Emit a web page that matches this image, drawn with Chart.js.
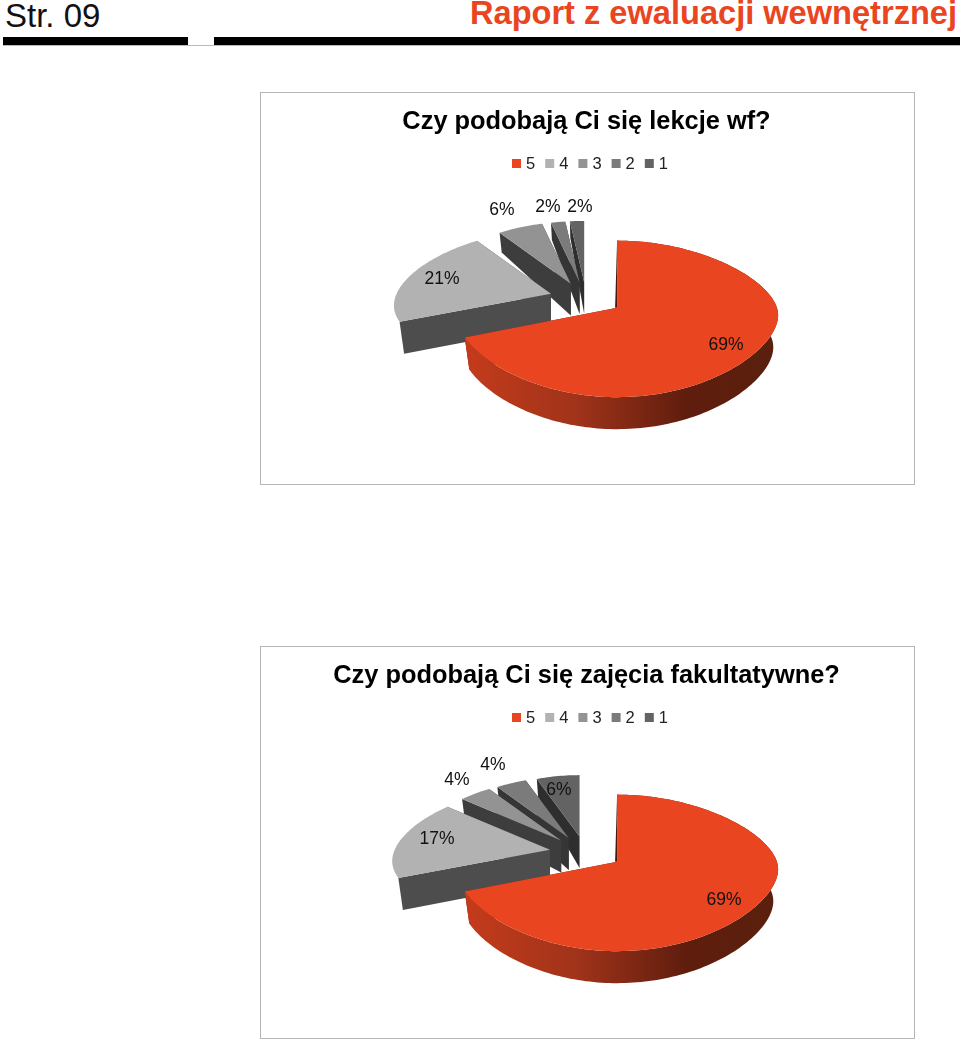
<!DOCTYPE html>
<html lang="pl">
<head>
<meta charset="utf-8">
<title>Raport z ewaluacji wewnętrznej</title>
<script src="https://cdn.jsdelivr.net/npm/chart.js@4"></script>
<style>
    body { margin: 0; background: #fff; font-family: "Liberation Sans", Arial, sans-serif; }
    #page { position: relative; width: 960px; height: 1040px; overflow: hidden; }
    #page-no { position: absolute; left: 5px; top: -2px; font-size: 33px; line-height: 36px; color: #111; }
    #report { position: absolute; right: 3px; top: -5px; font-size: 32.6px; line-height: 36px; font-weight: bold; color: #ea4521; white-space: nowrap; }
    .bar { position: absolute; top: 37px; height: 8px; background: #000; }
    #rule { position: absolute; left: 3px; width: 957px; top: 45px; height: 1px; background: #bbb; }
    .box { position: absolute; left: 260px; width: 653px; height: 391px; border: 1px solid #b5b5b5; }
    canvas { position: absolute; left: 0; top: 0; }
</style>
</head>
<body>
<div id="page">
    <div id="page-no">Str. 09</div>
    <div id="report">Raport z ewaluacji wewnętrznej</div>
    <div class="bar" style="left:3px;width:185px"></div>
    <div class="bar" style="left:214px;width:746px"></div>
    <div id="rule"></div>
    <div class="box" style="top:92px"><canvas id="chart1" width="653" height="391"></canvas></div>
    <div class="box" style="top:646px"><canvas id="chart2" width="653" height="391"></canvas></div>
</div>
<script>
const categories = ['5', '4', '3', '2', '1'];
const lessonValues = [69, 21, 6, 2, 2];
const extraValues = [69, 17, 4, 4, 6];
const lessonTitle = 'Czy podobają Ci się lekcje wf?';
const extraTitle = 'Czy podobają Ci się zajęcia fakultatywne?';

const topColors = ['#ea4521', '#b2b2b2', '#939393', '#7b7b7b', '#636363'];
const wallColors = ['#7a2812', '#4d4d4d', '#3d3d3d', '#353535', '#2e2e2e'];

// label centres inside the chart box, same order as the values
const lessonLabels = [[465, 252], [181, 186], [241, 117], [287, 114], [319, 114]];
const extraLabels = [[463, 253], [176, 192], [196, 133], [232, 118], [298, 143]];

// tilted view
const DEPTH = 32;
const TILT = 74;
const FORESHORTEN = 0.14;
const BACK_SHRINK = 36;

function project(arc, mid, angle, rho, dropped) {
    const R = arc.outerRadius;
    const off = arc.options.offset;
    const yAbs = -(off / R) * Math.cos(mid) - rho * Math.cos(angle);
    // slices get narrower towards the back, no kink at the front
    const u = 0.2 - yAbs;
    const rx = R - BACK_SHRINK * (u + Math.sqrt(u * u + 0.04)) / 2;
    const depth = DEPTH + Math.min(0, yAbs + 0.2) * 15;
    return {
        x: arc.x + off * Math.sin(mid) + rho * Math.sin(angle) * rx * (dropped ? 0.97 : 1),
        y: arc.y + TILT * yAbs / (1 - FORESHORTEN * yAbs) + (dropped ? depth : 0)
    };
}

function fillPoly(ctx, points, color) {
    ctx.beginPath();
    points.forEach((p, i) => i ? ctx.lineTo(p.x, p.y) : ctx.moveTo(p.x, p.y));
    ctx.closePath();
    ctx.fillStyle = color;
    ctx.fill();
}

function arcPoints(arc, from, to, mid, dropped) {
    const points = [];
    const steps = Math.max(2, Math.ceil(Math.abs(to - from) * 40));
    for (let i = 0; i <= steps; i++) {
        points.push(project(arc, mid, from + (to - from) * i / steps, 1, dropped));
    }
    return points;
}

const tiltedPie = {
    id: 'tiltedPie',
    beforeDatasetsDraw(chart) {
        const ctx = chart.ctx;
        const arcs = chart.getDatasetMeta(0).data;
        // back slices first, the big red one goes on top
        for (let i = arcs.length - 1; i >= 0; i--) {
            const arc = arcs[i];
            const start = arc.startAngle + Math.PI / 2;
            const end = arc.endAngle + Math.PI / 2;
            const mid = (start + end) / 2;
            const apex = project(arc, mid, 0, 0, false);
            const apexLow = project(arc, mid, 0, 0, true);
            const rim = arcPoints(arc, start, end, mid, false);

            [end, start].forEach(a => {
                fillPoly(ctx, [apex, project(arc, mid, a, 1, false), project(arc, mid, a, 1, true), apexLow], wallColors[i]);
            });

            // only the red slice shows its curved side
            if (i === 0) {
                const wall = ctx.createLinearGradient(arc.x - 120, 0, arc.x + 195, 0);
                wall.addColorStop(0, '#c43b1b');
                wall.addColorStop(0.35, '#a0331a');
                wall.addColorStop(0.7, '#5f1d0d');
                wall.addColorStop(1, '#5a200d');
                fillPoly(ctx, rim.concat(arcPoints(arc, end, start, mid, true)), wall);
                // thin dark edge left of the straight side
                fillPoly(ctx, [rim[0], apex, { x: apex.x - 2, y: apex.y }], '#4a1608');
            }
            fillPoly(ctx, [apex].concat(rim), topColors[i]);
        }
        return false;
    },
    afterDraw(chart) {
        const ctx = chart.ctx;
        const values = chart.data.datasets[0].data;
        const spots = chart.options.plugins.tiltedPie.labels;
        ctx.save();
        ctx.font = '17.5px "Liberation Sans", Arial, sans-serif';
        ctx.fillStyle = '#111';
        ctx.textAlign = 'center';
        ctx.textBaseline = 'middle';
        values.forEach((v, i) => ctx.fillText(v + '%', spots[i][0], spots[i][1]));

        // legend by hand, the built in one leaves too wide a gap after the box
        ctx.font = '16.5px "Liberation Sans", Arial, sans-serif';
        ctx.textAlign = 'left';
        categories.forEach((c, i) => {
            const x = 251 + i * 33.2;
            ctx.fillStyle = topColors[i];
            ctx.fillRect(x, 66, 9, 9);
            ctx.fillStyle = '#222';
            ctx.fillText(c, x + 14, 71);
        });
        ctx.restore();
    }
};

function makePie(id, title, values, labels) {
    return new Chart(document.getElementById(id), {
        type: 'pie',
        plugins: [tiltedPie],
        data: {
            labels: categories,
            datasets: [{ data: values, backgroundColor: topColors, borderWidth: 0, offset: 37 }]
        },
        options: {
            responsive: false,
            animation: false,
            radius: 165,
            layout: { padding: { bottom: 70, right: 2 } },
            plugins: {
                tooltip: { enabled: false },
                tiltedPie: { labels: labels },
                legend: { display: false },
                title: {
                    display: true,
                    text: title,
                    color: '#000',
                    font: { family: '"Liberation Sans", Arial, sans-serif', size: 25.4, weight: 'bold' },
                    padding: { top: 14, bottom: 45 }
                }
            }
        }
    });
}

makePie('chart1', lessonTitle, lessonValues, lessonLabels);
makePie('chart2', extraTitle, extraValues, extraLabels);
</script>
</body>
</html>
